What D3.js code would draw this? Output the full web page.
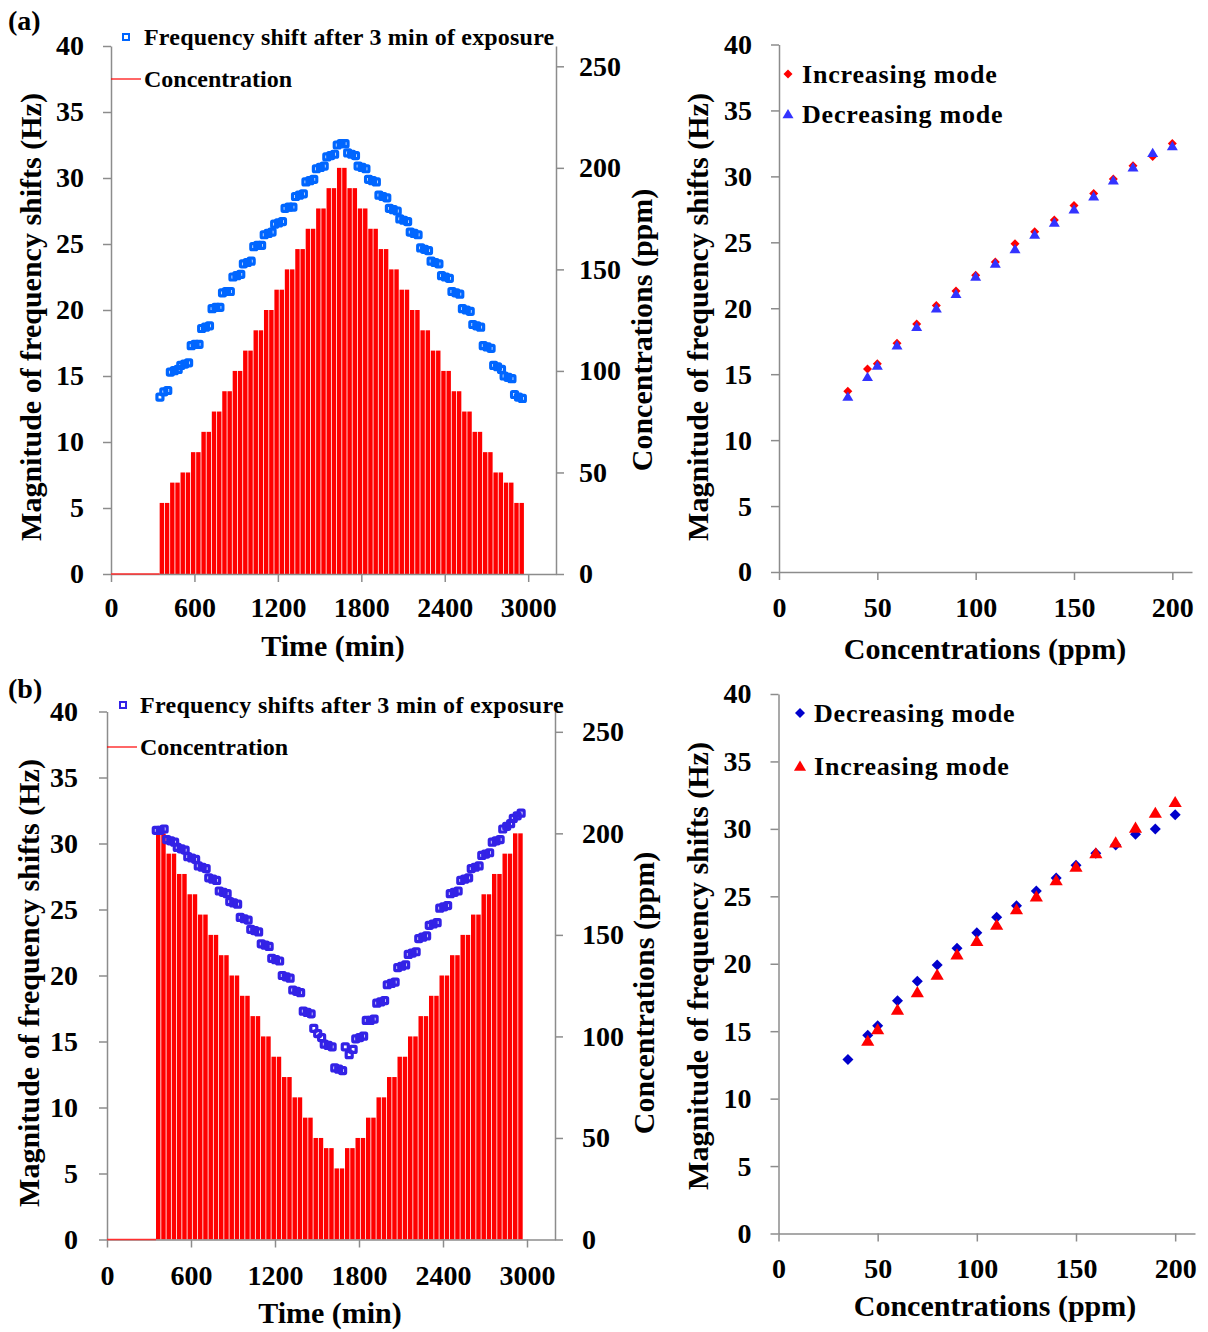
<!DOCTYPE html>
<html><head><meta charset="utf-8">
<script src="https://cdn.jsdelivr.net/npm/d3@7"></script>
<style>
body{margin:0;background:#fff}
text{font-family:"Liberation Serif","Times New Roman",serif;font-weight:bold;fill:#000}
.axis path,.axis line{stroke:#8c8c8c;stroke-width:1.5}
</style>
</head><body><svg id="c" width="1208" height="1332"></svg>
<script>
// ---------------- data ----------------
const stepStartTimes = [350,425,500,575,650,725,800,875,950,1025,1100,1175,1250,1325,1400,1475,1550,1625,1700,1775,1850,1925,2000,2075,2150,2225,2300,2375,2450,2525,2600,2675,2750,2825,2900];
const stepDuration = 75;
const sampleOffsets = [2,30,58];
const concA = [35,45,50,60,70,80,90,100,110,120,130,140,150,160,170,180,190,200,190,180,170,160,150,140,130,120,110,100,90,80,70,60,50,45,35];
const concB = [200,190,180,170,160,150,140,130,120,110,100,90,80,70,60,50,45,35,45,50,60,70,80,90,100,110,120,130,140,150,160,170,180,190,200];
const freqA = [
 [13.4,13.8,13.9],[15.3,15.4,15.5],[15.8,15.9,16.0],[17.3,17.4,17.4],[18.6,18.7,18.8],[20.1,20.2,20.2],
 [21.3,21.4,21.4],[22.5,22.6,22.7],[23.5,23.6,23.7],[24.8,24.9,24.9],[25.7,25.8,25.9],[26.5,26.6,26.7],
 [27.7,27.8,27.8],[28.6,28.7,28.8],[29.7,29.8,29.9],[30.7,30.8,30.9],[31.6,31.7,31.8],[32.5,32.6,32.6],
 [31.9,31.8,31.7],[30.9,30.8,30.7],[29.9,29.8,29.7],[28.7,28.6,28.5],[27.7,27.6,27.5],[26.9,26.8,26.7],
 [25.9,25.8,25.7],[24.7,24.6,24.5],[23.7,23.6,23.5],[22.6,22.5,22.4],[21.4,21.3,21.2],[20.1,20.0,19.9],
 [18.9,18.8,18.7],[17.3,17.2,17.1],[15.8,15.7,15.5],[15.0,14.9,14.8],[13.6,13.4,13.3]];
const freqB = [
 [31.0,31.0,31.1],[30.3,30.2,30.1],[29.7,29.6,29.5],[29.0,28.9,28.8],[28.3,28.2,28.1],[27.4,27.3,27.2],
 [26.4,26.3,26.2],[25.6,25.5,25.4],[24.4,24.3,24.2],[23.5,23.4,23.3],[22.4,22.3,22.2],[21.3,21.2,21.1],
 [20.0,19.9,19.8],[18.9,18.8,18.7],[17.3,17.2,17.1],[16.0,15.6,15.3],[14.8,14.7,14.6],[13.0,12.9,12.8],
 [14.6,14.0,14.4],[15.2,15.3,15.4],[16.6,16.6,16.7],[17.9,18.0,18.1],[19.3,19.4,19.5],[20.6,20.7,20.8],
 [21.6,21.7,21.8],[22.8,22.9,23.0],[23.8,23.9,24.0],[25.1,25.2,25.3],[26.2,26.3,26.4],[27.2,27.3,27.4],
 [28.1,28.2,28.3],[29.1,29.2,29.3],[30.1,30.2,30.3],[31.1,31.3,31.5],[31.9,32.1,32.3]];
const concLevels = [35,45,50,60,70,80,90,100,110,120,130,140,150,160,170,180,190,200];
const aIncreasing = [13.7,15.4,15.8,17.35,18.8,20.2,21.3,22.5,23.5,24.9,25.8,26.7,27.8,28.7,29.8,30.8,31.5,32.5];
const aDecreasing = [13.3,14.8,15.65,17.2,18.6,20.0,21.1,22.4,23.4,24.5,25.6,26.5,27.5,28.5,29.7,30.7,31.8,32.3];
const bDecreasing = [12.9,14.7,15.4,17.25,18.7,19.9,21.15,22.3,23.45,24.3,25.4,26.35,27.3,28.2,28.8,29.6,30.0,31.05];
const bIncreasing = [null,14.3,15.15,16.6,17.9,19.2,20.7,21.7,22.9,24.05,25.0,26.2,27.2,28.2,29.0,30.1,31.2,32.0];
const timeTicks = [0,600,1200,1800,2400,3000];
const hzTicks = [0,5,10,15,20,25,30,35,40];
const concTicks = [0,50,100,150,200,250];
const concXTicks = [0,50,100,150,200];

const svg = d3.select("#c");
const RED = "#ff0000";

function diamond(r){return `M0,${-r}L${r},0L0,${r}L${-r},0Z`;}
function triangle(r){return `M0,${-r}L${r*1.1},${r*0.85}L${-r*1.1},${r*0.85}Z`;}

function styleAxis(g, fs){
  g.attr("class","axis");
  g.selectAll("text").style("font-size",fs+"px").attr("fill","#000");
}

function timePanel(cfg){
  const g = svg.append("g");
  const x = d3.scaleLinear([0,3200],[cfg.x0,cfg.x1]);
  const yL = d3.scaleLinear([0,40],[cfg.yb,cfg.yt]);
  const yR = d3.scaleLinear([0,260],[cfg.yb,cfg.yt]);
  const half = stepDuration/2;
  const sub = [];
  stepStartTimes.forEach((t,i)=>{ sub.push({t:t,v:cfg.conc[i]}); sub.push({t:t+half,v:cfg.conc[i]}); });
  g.append("g").selectAll("rect").data(sub).join("rect")
    .attr("x",d=>x(d.t)).attr("width",d=>Math.max(0.5,x(d.t+half)-x(d.t)-0.8))
    .attr("y",d=>yR(d.v)).attr("height",d=>yR(0)-yR(d.v)).attr("fill",RED);
  const ax = g.append("g").attr("transform",`translate(0,${cfg.yb})`)
    .call(d3.axisBottom(x).tickValues(timeTicks).tickFormat(d3.format("d")).tickSize(8).tickSizeOuter(0).tickPadding(cfg.xPad));
  styleAxis(ax,28);
  const al = g.append("g").attr("transform",`translate(${cfg.x0},0)`)
    .call(d3.axisLeft(yL).tickValues(hzTicks).tickSize(8).tickSizeOuter(0).tickPadding(cfg.lPad));
  styleAxis(al,28);
  const ar = g.append("g").attr("transform",`translate(${cfg.x1},0)`)
    .call(d3.axisRight(yR).tickValues(concTicks).tickSize(8).tickSizeOuter(0).tickPadding(cfg.rPad));
  styleAxis(ar,28);
  g.append("line").attr("x1",x(0)).attr("x2",x(stepStartTimes[0])).attr("y1",yR(0)).attr("y2",yR(0))
    .attr("stroke","#ff3030").attr("stroke-width",1.5);
  const pts = [];
  stepStartTimes.forEach((t,i)=>sampleOffsets.forEach((o,j)=>pts.push({t:t+o,v:cfg.freq[i][j]})));
  g.append("g").selectAll("rect").data(pts).join("rect")
    .attr("x",d=>x(d.t)-3).attr("y",d=>yL(d.v)-3).attr("width",6).attr("height",6).attr("rx",1)
    .attr("fill","none").attr("stroke",cfg.blue).attr("stroke-width",3.2);
  g.append("rect").attr("x",cfg.legX-3).attr("y",cfg.legY1-3).attr("width",6).attr("height",6)
    .attr("fill","none").attr("stroke",cfg.blue).attr("stroke-width",2);
  g.append("text").attr("x",cfg.legTx).attr("y",cfg.legY1).attr("dy","0.35em").style("font-size","24px")
    .style("letter-spacing",cfg.legLs).text(cfg.legText);
  g.append("line").attr("x1",cfg.x0).attr("x2",cfg.legTx-3).attr("y1",cfg.legY2).attr("y2",cfg.legY2).attr("stroke",RED).attr("stroke-width",1.2);
  g.append("text").attr("x",cfg.legTx).attr("y",cfg.legY2).attr("dy","0.35em").style("font-size","24px").text("Concentration");
  g.append("text").attr("transform",`translate(${cfg.ytX},${cfg.ytY}) rotate(-90)`).attr("text-anchor","middle").attr("dy","0.35em")
    .style("font-size","30px").text("Magnitude of frequency shifts (Hz)");
  g.append("text").attr("transform",`translate(${cfg.rtX},${cfg.rtY}) rotate(-90)`).attr("text-anchor","middle").attr("dy","0.35em")
    .style("font-size","30px").text("Concentrations (ppm)");
  g.append("text").attr("x",cfg.xtX).attr("y",cfg.xtY).attr("text-anchor","middle").attr("dy","0.35em")
    .style("font-size","30px").text("Time (min)");
}

function scatterPanel(cfg){
  const g = svg.append("g");
  const x = d3.scaleLinear([0,210],[cfg.x0,cfg.x1]);
  const y = d3.scaleLinear([0,40],[cfg.yb,cfg.yt]);
  const ax = g.append("g").attr("transform",`translate(0,${cfg.yb})`)
    .call(d3.axisBottom(x).tickValues(concXTicks).tickSize(8).tickSizeOuter(0).tickPadding(cfg.xPad));
  styleAxis(ax,28);
  const al = g.append("g").attr("transform",`translate(${cfg.x0},0)`)
    .call(d3.axisLeft(y).tickValues(hzTicks).tickSize(8).tickSizeOuter(0).tickPadding(cfg.lPad));
  styleAxis(al,28);
  cfg.series.forEach(s=>{
    const d = concLevels.map((c,i)=>({c:c,v:s.values[i]})).filter(p=>p.v!=null);
    g.append("g").selectAll("path").data(d).join("path")
      .attr("transform",p=>`translate(${x(p.c)},${y(p.v)})`)
      .attr("d",s.shape==="diamond"?diamond(s.r):triangle(s.r)).attr("fill",s.color);
    g.append("path").attr("transform",`translate(${cfg.legX},${s.legY})`)
      .attr("d",s.shape==="diamond"?diamond(s.lr):triangle(s.lr)).attr("fill",s.color);
    g.append("text").attr("x",cfg.legTx).attr("y",s.legY).attr("dy","0.35em")
      .style("font-size","26px").style("letter-spacing","0.8px").text(s.name);
  });
  g.append("text").attr("transform",`translate(${cfg.ytX},${cfg.ytY}) rotate(-90)`).attr("text-anchor","middle").attr("dy","0.35em")
    .style("font-size","30px").text("Magnitude of frequency shifts (Hz)");
  g.append("text").attr("x",cfg.xtX).attr("y",cfg.xtY).attr("text-anchor","middle").attr("dy","0.35em")
    .style("font-size","30px").text("Concentrations (ppm)");
}

timePanel({x0:111,x1:556,yb:574,yt:46,xPad:15,lPad:19,rPad:15,conc:concA,freq:freqA,blue:"#0066ff",
  legX:126,legY1:37,legTx:144,legY2:79,legText:"Frequency shift after 3 min of exposure",legLs:"0.2px",
  ytX:30,ytY:317,rtX:641,rtY:330,xtX:333,xtY:645});
timePanel({x0:107,x1:555,yb:1239.5,yt:711.5,xPad:18,lPad:21,rPad:19,conc:concB,freq:freqB,blue:"#3322e6",
  legX:123,legY1:705,legTx:140,legY2:747,legText:"Frequency shifts after 3 min of exposure",legLs:"0.3px",
  ytX:28,ytY:983,rtX:643,rtY:993,xtX:330,xtY:1312});

scatterPanel({x0:779,x1:1192,yb:572,yt:44.5,xPad:17,lPad:19,legX:788,legTx:802,
  ytX:697,ytY:317,xtX:985,xtY:648,
  series:[{name:"Increasing mode",values:aIncreasing,shape:"diamond",color:"#ff0000",r:4.5,lr:4.5,legY:74},
          {name:"Decreasing mode",values:aDecreasing,shape:"triangle",color:"#3333ff",r:5,lr:5,legY:114}]});
scatterPanel({x0:778.5,x1:1195,yb:1233.5,yt:694,xPad:17,lPad:19,legX:800,legTx:814,
  ytX:697,ytY:966,xtX:995,xtY:1305,
  series:[{name:"Decreasing mode",values:bDecreasing,shape:"diamond",color:"#0000cc",r:5.5,lr:5,legY:713},
          {name:"Increasing mode",values:bIncreasing,shape:"triangle",color:"#ff0000",r:6,lr:5.5,legY:766}]});

svg.append("text").attr("x",8).attr("y",20).attr("dy","0.35em").style("font-size","28px").text("(a)");
svg.append("text").attr("x",8).attr("y",688).attr("dy","0.35em").style("font-size","28px").text("(b)");
</script></body></html>
